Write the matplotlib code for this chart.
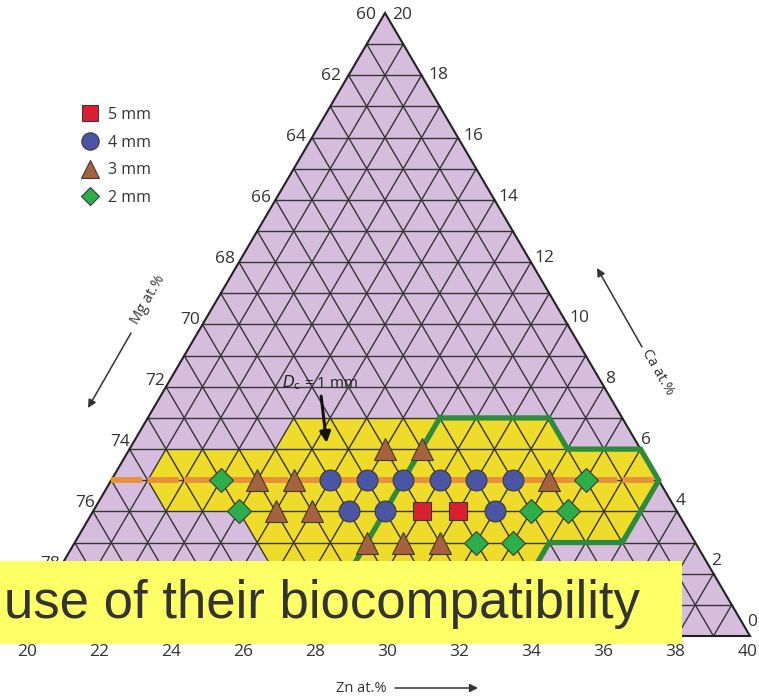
import numpy as np
import matplotlib
matplotlib.use("Agg")
import matplotlib.pyplot as plt
from matplotlib.patches import Polygon, Rectangle
from matplotlib.lines import Line2D

plt.rcParams['font.family'] = ['Open Sans', 'DejaVu Sans']
plt.rcParams['lines.scale_dashes'] = False

# ---- data (Zn at.%, Ca at.%; Mg is the balance) ----
zn_5mm = [29, 30]
ca_5mm = [4, 4]
zn_4mm = [26, 27, 28, 29, 30, 31, 27, 28, 31]
ca_4mm = [5, 5, 5, 5, 5, 5, 4, 4, 4]
zn_3mm = [27, 28, 24, 25, 32, 25, 26, 28, 29, 30]
ca_3mm = [6, 6, 5, 5, 5, 4, 4, 3, 3, 3]
zn_2mm = [23, 33, 24, 32, 33, 31, 32]
ca_2mm = [5, 5, 4, 4, 4, 3, 3]

# glass-forming region and the best-glass-former outline
region_zn = [24, 31, 32, 34, 35, 35, 33, 33, 26, 25, 24, 22, 21, 21, 24]
region_ca = [7, 7, 6, 6, 5, 3, 3, 2, 2, 3, 4, 4, 5, 6, 6]
best_zn = [28, 31, 32, 34, 35, 35, 33, 33, 28]
best_ca = [7, 7, 6, 6, 5, 3, 3, 1, 1]

# Dc = 1 mm composition line (constant Ca)
line_zn = [20, 35]
line_ca = [5, 5]

mg_ticks = [60, 62, 64, 66, 68, 70, 72, 74, 76, 78]
ca_ticks = [20, 18, 16, 14, 12, 10, 8, 6, 4, 2, 0]
zn_ticks = [20, 22, 24, 26, 28, 30, 32, 34, 36, 38, 40]

ZN0, SIDE = 20, 20
H = np.sqrt(3) / 2


def tern(zn, ca):
    zn = np.asarray(zn, float)
    ca = np.asarray(ca, float)
    return (zn - ZN0) + ca / 2.0, ca * H


W, HGT = 759, 696
fig = plt.figure(figsize=(W / 100, HGT / 100), dpi=100)
ax = fig.add_axes([0, 0, 1, 1])
ax.set_xlim(-20 / 36.5, (W - 20) / 36.5)
ax.set_ylim(-(HGT - 636) / 35.97, 636 / 35.97)
ax.axis('off')


def fxy(px, py):
    return px / W, 1 - py / HGT


PT = 0.72  # points per pixel at 100 dpi

# background triangle
tx, ty = tern([20, 40, 20], [0, 0, 20])
ax.add_patch(Polygon(np.c_[tx, ty], closed=True, facecolor='#d6bddd',
                     edgecolor='none', zorder=1))

# yellow region
rx, ry = tern(region_zn, region_ca)
ax.add_patch(Polygon(np.c_[rx, ry], closed=True, facecolor='#efdc2a',
                     edgecolor='none', zorder=2))

# grid
gcol = '#353535'
for k in range(1, SIDE):
    x, y = tern([20, 40 - k], [k, k])
    ax.plot(x, y, color=gcol, lw=1.0, zorder=3)
    x, y = tern([20 + k, 20 + k], [0, 20 - k])
    ax.plot(x, y, color=gcol, lw=1.0, zorder=3)
    x, y = tern([20 + k, 20], [0, k])
    ax.plot(x, y, color=gcol, lw=1.0, zorder=3)
ax.plot(np.r_[tx, tx[0]], np.r_[ty, ty[0]], color='#222222', lw=1.5,
        zorder=4, solid_joinstyle='miter')

# best glass formers outline
bx, by = tern(best_zn, best_ca)
ax.plot(np.r_[bx, bx[0]], np.r_[by, by[0]], color='#2e8a3c', lw=3.8,
        zorder=5, solid_joinstyle='miter')

# Dc = 1 mm line
lx, ly = tern(line_zn, line_ca)
ax.plot(lx, ly, color='#e8913a', lw=4.2, zorder=6, solid_capstyle='butt',
        linestyle=(0, (22.6, 3.7)))

# compositions
ec = '#3a3a3a'
x, y = tern(zn_2mm, ca_2mm)
ax.plot(x, y, 'D', ms=12.5, mfc='#2cae4b', mec=ec, mew=0.8, ls='none', zorder=7)
x, y = tern(zn_3mm, ca_3mm)
ax.plot(x, y, '^', ms=16, mfc='#a6623f', mec=ec, mew=0.8, ls='none', zorder=7)
x, y = tern(zn_4mm, ca_4mm)
ax.plot(x, y, 'o', ms=15, mfc='#4a55a4', mec=ec, mew=0.8, ls='none', zorder=7)
x, y = tern(zn_5mm, ca_5mm)
ax.plot(x, y, 's', ms=13.5, mfc='#d91f30', mec=ec, mew=0.8, ls='none', zorder=7)

# tick labels
tfs = 12.5
tc = '#333333'
for mg in mg_ticks:
    ca = 80 - mg
    x, y = tern(20, ca)
    dx, dy = 4.5 - 0.67 * ca, -11 + 0.65 * ca
    ax.annotate(str(mg), (x, y), xytext=(dx * PT, -dy * PT),
                textcoords='offset points', ha='right', va='center',
                fontsize=tfs, color=tc, zorder=8)
for ca in ca_ticks:
    x, y = tern(40 - ca, ca)
    dx, dy = -3 + 0.53 * ca, -14 + 0.78 * ca
    ax.annotate(str(ca), (x, y), xytext=(dx * PT, -dy * PT),
                textcoords='offset points', ha='left', va='center',
                fontsize=tfs, color=tc, zorder=8)
for zn in zn_ticks:
    x, y = tern(zn, 0)
    dx = 7.5 - 0.5 * (zn - 20)
    ax.annotate(str(zn), (x, y), xytext=(dx * PT, -16.5 * PT),
                textcoords='offset points', ha='center', va='center',
                fontsize=tfs, color=tc, zorder=8)

# axis titles with direction arrows
afs = 10.5
arr = dict(arrowstyle='-|>', color='#333333', lw=1.1, mutation_scale=12,
           shrinkA=0, shrinkB=0)
fig.text(*fxy(361, 688), 'Zn at.%', ha='center', va='center', fontsize=afs, color=tc)
ax.annotate('', xy=fxy(478, 688), xytext=fxy(395, 688), xycoords='figure fraction',
            textcoords='figure fraction', arrowprops=arr)
fig.text(*fxy(148, 300), 'Mg at.%', ha='center', va='center', fontsize=afs,
         color=tc, rotation=60)
ax.annotate('', xy=fxy(88, 408), xytext=fxy(131, 333), xycoords='figure fraction',
            textcoords='figure fraction', arrowprops=arr)
fig.text(*fxy(658, 372), 'Ca at.%', ha='center', va='center', fontsize=afs,
         color=tc, rotation=-60)
ax.annotate('', xy=fxy(597, 268), xytext=fxy(642, 347), xycoords='figure fraction',
            textcoords='figure fraction', arrowprops=arr)

# Dc = 1 mm callout
ax.text(*fxy(320, 383), r'$D_\mathrm{c}$ = 1 mm', transform=fig.transFigure,
        ha='center', va='center', fontsize=11, color='#222222', zorder=8)
ax.annotate('', xy=tern(25.3, 6.2), xytext=tern(24.4, 7.7),
            arrowprops=dict(arrowstyle='-|>', color='#111111', lw=2.2,
                            mutation_scale=16, shrinkA=0, shrinkB=0), zorder=8)

# legend
handles = [
    Line2D([], [], marker='s', ls='none', ms=11, mfc='#d91f30', mec=ec, mew=0.8),
    Line2D([], [], marker='o', ls='none', ms=12.5, mfc='#4a55a4', mec=ec, mew=0.8),
    Line2D([], [], marker='^', ls='none', ms=12.5, mfc='#a6623f', mec=ec, mew=0.8),
    Line2D([], [], marker='D', ls='none', ms=9.5, mfc='#2cae4b', mec=ec, mew=0.8),
]
ax.legend(handles, ['5 mm', '4 mm', '3 mm', '2 mm'], loc='upper left',
          bbox_to_anchor=fxy(70, 99), bbox_transform=fig.transFigure,
          frameon=False, fontsize=11.5, handletextpad=0.35, labelspacing=0.73,
          handlelength=1.5, borderpad=0, labelcolor=tc)

# caption strip
fig.patches.append(Rectangle(fxy(0, 644), 682 / W, (644 - 561) / HGT,
                             transform=fig.transFigure, facecolor='#ffff66',
                             edgecolor='none', zorder=20))
fig.text(*fxy(640, 604), 'use of their biocompatibility', ha='right', va='center',
         fontsize=38, color='#333333', family=['Liberation Sans', 'DejaVu Sans'],
         zorder=21)

fig.savefig('out.png', dpi=100)
